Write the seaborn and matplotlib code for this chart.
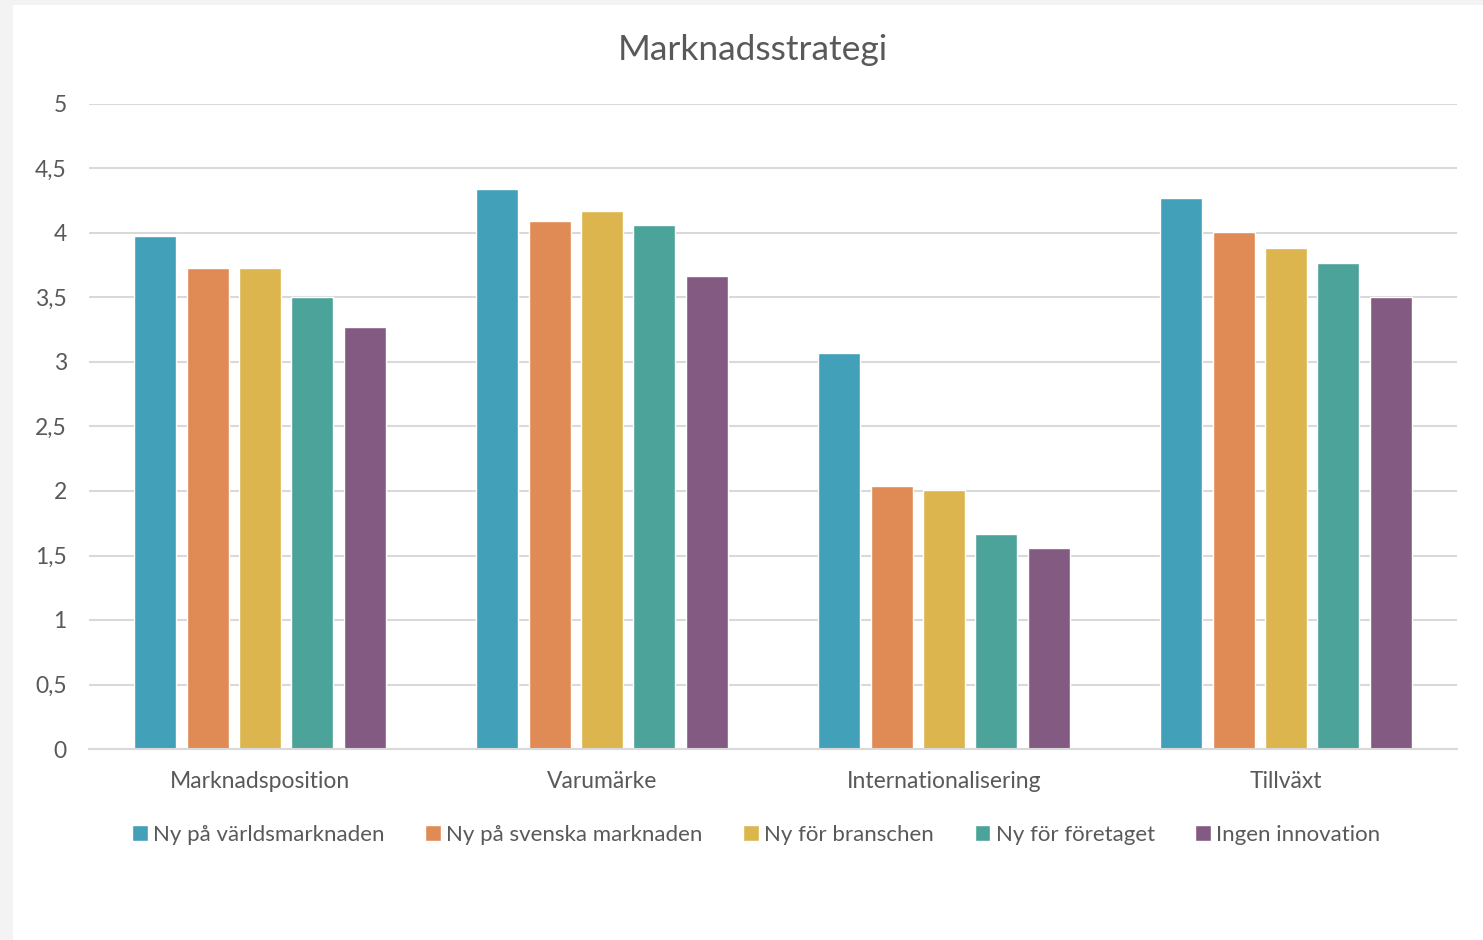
import matplotlib
matplotlib.use("Agg")
import matplotlib.pyplot as plt
import matplotlib.patches as mpatches
import seaborn as sns
import pandas as pd

categories = ["Marknadsposition", "Varumärke", "Internationalisering", "Tillväxt"]
series = ["Ny på världsmarknaden", "Ny på svenska marknaden", "Ny för branschen",
          "Ny för företaget", "Ingen innovation"]
colors = ["#43A0B9", "#E08B55", "#DCB54E", "#4CA39A", "#835A82"]

vals_varld = [3.98, 4.34, 3.07, 4.27]
vals_svenska = [3.73, 4.09, 2.04, 4.01]
vals_bransch = [3.73, 4.17, 2.01, 3.88]
vals_foretag = [3.50, 4.06, 1.67, 3.77]
vals_ingen = [3.27, 3.67, 1.56, 3.50]

yticks = [0, 0.5, 1, 1.5, 2, 2.5, 3, 3.5, 4, 4.5, 5]

rows = []
for s, vals in zip(series, [vals_varld, vals_svenska, vals_bransch, vals_foretag, vals_ingen]):
    for c, v in zip(categories, vals):
        rows.append({"kategori": c, "serie": s, "varde": v})
df = pd.DataFrame(rows)

sns.set_theme(style="white")
plt.rcParams["font.family"] = ["Lato", "DejaVu Sans"]
text_col = "#595959"

fig = plt.figure(figsize=(14.83, 9.4), dpi=100, facecolor="#f3f3f3")
# white chart area with thin grey frame on left/top
fig.patches.append(mpatches.Rectangle((13 / 1483, 0), 1, 1 - 5 / 940,
                                      transform=fig.transFigure, facecolor="white",
                                      edgecolor="none", zorder=-1))
ax = fig.add_axes([89 / 1483, 1 - 749 / 940, (1457 - 89) / 1483, (749 - 104) / 940])
ax.set_facecolor("none")

sns.barplot(data=df, x="kategori", y="varde", hue="serie", order=categories,
            hue_order=series, palette=colors, width=0.765, gap=0.2,
            saturation=1, ax=ax)

ax.set_ylim(0, 5)
ax.set_xlim(-0.5, 3.5)
ax.set_yticks(yticks)
ax.set_yticklabels([("%g" % t).replace(".", ",") for t in yticks])
ax.yaxis.grid(True, color="#d9d9d9", linewidth=1.5)
ax.set_axisbelow(True)
for side in ["left", "right", "top"]:
    ax.spines[side].set_visible(False)
ax.spines["bottom"].set_color("#d9d9d9")
ax.spines["bottom"].set_linewidth(1.5)
ax.tick_params(axis="both", length=0, colors=text_col, labelsize=16.5)
ax.tick_params(axis="y", pad=16)
ax.tick_params(axis="x", pad=16)
ax.set_xlabel("")
ax.set_ylabel("")

fig.text(0.5075, 1 - 50 / 940, "Marknadsstrategi", ha="center", va="center",
         fontsize=25.5, color=text_col)

handles, labels = ax.get_legend_handles_labels()
ax.legend_.remove()
fig.legend(handles, labels, loc="center", bbox_to_anchor=(0.51, 1 - 835 / 940),
           ncol=5, frameon=False, fontsize=16, handlelength=0.7, handleheight=0.7,
           handletextpad=0.25, columnspacing=1.82, labelcolor=text_col)

fig.savefig("out.png", dpi=100, facecolor=fig.get_facecolor())
